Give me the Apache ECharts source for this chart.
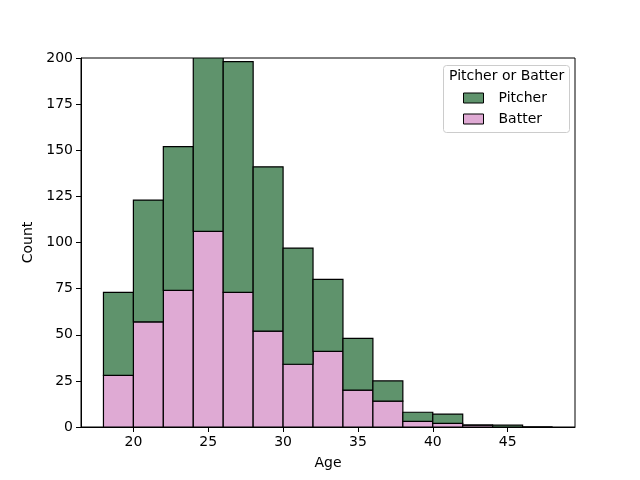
<!DOCTYPE html>
<html>
<head>
<meta charset="utf-8">
<script src="https://cdn.jsdelivr.net/npm/echarts@6/dist/echarts.min.js"></script>
<style>html,body{margin:0;padding:0;background:#fff}#c{width:640px;height:480px}</style>
</head>
<body>
<div id="c"></div>
<script>
// Bin left edges (Age), bin width 2
const binStarts = [18, 20, 22, 24, 26, 28, 30, 32, 34, 36, 38, 40, 42, 44, 46];
const binWidth = 2;
const batterCounts = [28, 57, 74, 106, 73, 52, 34, 41, 20, 14, 3, 2, 1, 0, 0];
const pitcherCounts = [45, 66, 78, 94, 125, 89, 63, 39, 28, 11, 5, 5, 0, 1, 0];
const xTicks = [20, 25, 30, 35, 40, 45];
const yTicks = [0, 25, 50, 75, 100, 125, 150, 175, 200];

const pitcherColor = '#5f936c';
const batterColor = '#dfaad4';

const batterData = binStarts.map((s, i) => [s, s + binWidth, 0, batterCounts[i]]);
const pitcherData = binStarts.map((s, i) => [s, s + binWidth, batterCounts[i], batterCounts[i] + pitcherCounts[i]]);

function renderBar(params, api) {
  const p0 = api.coord([api.value(0), api.value(2)]);
  const p1 = api.coord([api.value(1), api.value(3)]);
  return {
    type: 'rect',
    shape: { x: p0[0], y: p1[1], width: p1[0] - p0[0], height: p0[1] - p1[1] },
    style: api.style()
  };
}

const font = 'DejaVu Sans';
const fs = 14;
const chart = echarts.init(document.getElementById('c'), null, { renderer: 'canvas' });
chart.setOption({
  animation: false,
  textStyle: { fontFamily: font },
  grid: { left: 81, right: 65, top: 58, bottom: 53, show: true, borderColor: '#000', borderWidth: 1, backgroundColor: 'transparent' },
  xAxis: {
    type: 'value', min: 16.5, max: 49.5,
    name: 'Age', nameLocation: 'middle', nameGap: 29,
    nameTextStyle: { color: '#000', fontSize: fs, fontFamily: font },
    axisLine: { show: true, lineStyle: { color: '#000', width: 1 } },
    axisTick: { show: true, length: 5, inside: false, customValues: xTicks, lineStyle: { color: '#000' } },
    axisLabel: { color: '#000', fontSize: fs, fontFamily: font, margin: 8, customValues: xTicks },
    splitLine: { show: false }
  },
  yAxis: {
    type: 'value', min: 0, max: 200, interval: 25,
    name: 'Count', nameLocation: 'middle', nameGap: 43, nameRotate: 90,
    nameTextStyle: { color: '#000', fontSize: fs, fontFamily: font },
    axisLine: { show: true, lineStyle: { color: '#000', width: 1 } },
    axisTick: { show: true, length: 5, lineStyle: { color: '#000' } },
    axisLabel: { color: '#000', fontSize: fs, fontFamily: font, margin: 8, customValues: yTicks },
    splitLine: { show: false }
  },
  legend: {
    orient: 'vertical', left: 458, top: 86, z: 20,
    itemWidth: 20, itemHeight: 10, itemGap: 7,
    textStyle: { color: '#000', fontSize: fs, fontFamily: font, padding: [0, 0, 0, 10] },
    data: [
      { name: 'Pitcher', icon: 'rect', itemStyle: { color: pitcherColor, borderColor: '#000', borderWidth: 1 } },
      { name: 'Batter', icon: 'rect', itemStyle: { color: batterColor, borderColor: '#000', borderWidth: 1 } }
    ]
  },
  graphic: [
    { type: 'rect', left: 443, top: 65, z: 3,
      shape: { width: 126, height: 67, r: 3 },
      style: { fill: 'rgba(255,255,255,0.8)', stroke: '#cccccc', lineWidth: 1 } },
    { type: 'text', left: 449, top: 69, z: 21,
      style: { text: 'Pitcher or Batter', fill: '#000', font: '14px "DejaVu Sans"' } }
  ],
  series: [
    { name: 'Batter', type: 'custom', renderItem: renderBar, clip: true,
      encode: { x: [0, 1], y: [2, 3] },
      itemStyle: { color: batterColor, borderColor: '#000', borderWidth: 1.2 },
      data: batterData },
    { name: 'Pitcher', type: 'custom', renderItem: renderBar, clip: true,
      encode: { x: [0, 1], y: [2, 3] },
      itemStyle: { color: pitcherColor, borderColor: '#000', borderWidth: 1.2 },
      data: pitcherData }
  ]
});
</script>
</body>
</html>
